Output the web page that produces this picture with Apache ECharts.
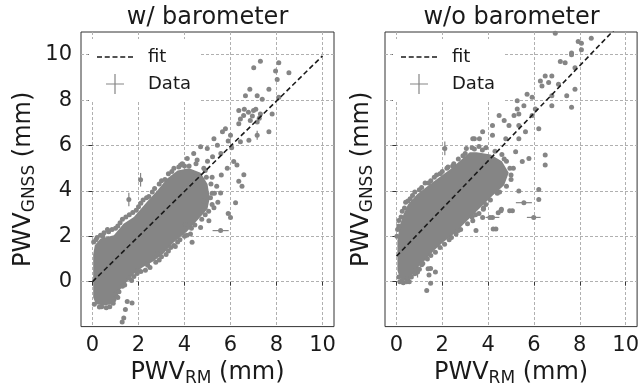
<!DOCTYPE html>
<html><head><meta charset="utf-8">
<script src="https://cdn.jsdelivr.net/npm/echarts@6/dist/echarts.min.js"></script>
<style>html,body{margin:0;padding:0;background:#fff}#c{width:642px;height:392px}</style>
</head><body><div id="c"></div>
<script>
// ---------- data ----------
const titles = ['w/ barometer', 'w/o barometer'];
const xTicks = [0, 2, 4, 6, 8, 10];
const yTicks = [0, 2, 4, 6, 8, 10];
const fitLeft = [[0, 0], [10, 9.95]];
const fitRight = [[0, 1.12], [10, 11.62]];

// dense core of the point cloud (outline, data units)
const leftCore = [[0.03,-0.7],[0.15,-1.0],[0.5,-1.05],[0.8,-1.0],[0.95,-0.75],[1.2,-0.35],[1.5,0.0],[1.8,0.35],[2.2,0.65],[2.65,0.9],[3.1,1.25],[3.5,1.7],[4.1,2.2],[4.6,2.75],[5.0,3.2],[5.1,3.7],[5.0,4.3],[4.7,4.8],[4.2,5.0],[3.7,4.9],[3.25,4.55],[2.8,4.0],[2.4,3.55],[1.8,2.85],[1.35,2.55],[0.93,2.05],[0.35,1.9],[0.1,1.6],[0.03,1.2]];
const rightCore = [[0.04,0.5],[0.15,0.15],[0.4,0.05],[0.7,0.3],[1.0,0.7],[1.3,1.0],[1.65,1.38],[2.05,1.75],[2.5,2.1],[3.05,2.65],[3.6,3.2],[4.2,3.8],[4.7,4.25],[4.9,4.8],[4.6,5.3],[4.1,5.6],[3.5,5.7],[3.2,5.7],[2.8,5.35],[2.35,4.95],[1.8,4.55],[1.35,4.2],[0.9,3.85],[0.5,3.4],[0.3,2.95],[0.15,2.5],[0.04,1.8]];

// individual points
const leftPoints = [[7.30,9.71],[8.10,9.64],[8.54,9.20],[7.96,9.28],[7.01,9.42],[8.03,8.91],[6.84,8.48],[7.67,8.48],[7.16,8.19],[6.65,8.19],[7.38,8.04],[8.10,8.12],[7.81,7.39],
[6.36,7.54],[6.57,7.32],[6.78,7.46],[7.00,7.54],[7.10,7.60],[7.30,7.39],[6.43,7.17],[6.86,7.10],[7.16,7.03],[6.36,6.96],[6.60,7.60],[6.95,7.30],[7.25,7.20],
[7.16,6.45],[7.67,6.60],[6.43,6.16],[6.80,6.23],[5.78,6.74],[5.65,6.60],[6.00,6.45],[5.28,6.30],[5.43,6.01],[4.99,5.87],[4.70,5.94],[4.40,5.65],[4.55,5.36],[4.12,5.43],[3.83,5.14],[3.54,5.00],[6.14,5.29],[6.28,5.14],[6.58,4.71],[6.36,4.42],[6.50,4.20],[5.58,5.65],[5.22,5.50],[5.86,5.00],[4.84,5.00],[6.05,5.90],[5.90,6.20],
[4.4,4.6],[4.9,4.9],[5.2,4.6],[5.4,4.2],[5.3,3.9],[4.5,5.2],[3.9,5.2],[5.6,4.7],[5.0,5.3],[4.2,5.1],[3.3,4.75],[3.0,4.45],
[1.58,3.62],[2.09,4.49],[4.26,2.10],[4.33,1.74],[4.70,2.39],[5.06,2.68],[5.57,2.25],[6.00,2.83],[6.22,3.48],[5.28,3.26],[5.57,3.91],[3.54,1.59],[4.04,2.52],[4.84,3.55],[5.13,3.70],[2.81,1.23],[2.38,0.80],[1.94,0.36],[1.80,0.23],[5.45,3.5],[5.9,3.0],
[0.93,-0.80],[1.51,-0.87],[1.72,-0.94],[1.43,-1.23],[1.36,-1.60],[1.29,-1.78],[1.05,-0.65],
[0.05,1.75],[0.2,1.95],[0.5,2.15],[0.7,2.2],[1.1,2.45],[1.6,2.95],[2.0,3.3],[2.2,3.6],[2.6,3.95],[0.35,2.05],[0.85,2.3],[1.3,2.75],[1.9,3.15],[2.45,3.75],
[1.0,-0.55],[1.3,-0.2],[1.7,0.05],[2.1,0.45],[2.5,0.62],[2.9,0.95],[3.3,1.35],[3.8,1.85],[4.3,2.35],[4.9,2.95],[0.6,-1.15],[0.3,-1.12],[0.08,-1.0],[1.15,-0.45],[2.3,0.5],[3.0,1.1],[3.6,1.55],[4.1,2.05],
[0.15,1.85],[0.45,2.0],[0.65,2.3],[1.0,2.35],[1.2,2.6],[1.45,2.85],[1.75,3.05],[2.1,3.45],[2.35,3.7],[2.7,4.1],[2.9,4.3],[3.15,4.5],[3.45,4.85],[3.75,5.05],[4.0,5.1],
[0.4,-1.1],[0.75,-1.1],[0.9,-0.95],[1.1,-0.7],[1.4,-0.15],[1.6,0.15],[1.95,0.5],[2.4,0.72],[2.75,0.85],[3.2,1.2],[3.4,1.5],[3.7,1.75],[4.0,2.0],[4.45,2.5],[4.75,2.75],[5.05,3.1],[5.2,3.4],[5.2,3.9],[5.15,4.3],[4.95,4.6]];

const rightPoints = [[6.93,10.94],[8.50,10.72],[7.93,10.58],[8.07,10.22],[7.64,10.07],[7.36,9.64],[7.15,9.70],[7.79,9.42],[6.78,9.06],[6.49,9.06],[6.28,8.84],[6.64,8.77],[6.35,8.62],[7.07,8.70],[7.79,8.48],[7.43,8.19],[6.78,8.19],[5.92,8.12],[5.70,8.26],[7.64,7.68],[6.78,7.75],[6.06,7.61],[5.56,7.75],[5.27,7.61],[5.13,7.32],[5.34,7.39],[4.48,7.32],[4.70,7.10],[4.19,6.88],[4.91,6.88],[5.34,6.88],[3.76,6.60],[4.19,6.45],[4.77,6.30],[5.34,6.30],[5.63,6.60],[3.40,6.30],[6.49,5.58],[6.49,5.14],[2.11,5.87],[3.05,5.87],[5.20,5.72],[5.49,5.29],[5.78,5.43],
[8.07,10.50],[7.64,10.00],[6.21,6.74],[5.92,7.32],[5.27,7.97],[3.62,6.30],[3.33,6.30],
[3.76,2.83],[4.19,2.83],[4.56,3.12],[5.06,3.12],[5.34,3.99],[5.56,3.48],[5.99,2.83],[6.21,3.62],[6.21,4.06],[4.34,2.32],[3.33,2.68],[3.79,3.19],[4.08,2.83],[4.44,3.04],[4.58,3.19],[4.94,3.12],[4.22,2.32],[3.47,2.25],
[1.49,0.58],[1.70,0.43],[1.42,0.29],[1.49,-0.07],[1.32,-0.39],[0.92,0.43],[0.56,0.0],[1.38,0.57],
[0.1,2.7],[0.25,3.1],[0.4,3.5],[0.7,3.8],[1.1,4.15],[1.5,4.45],[2.0,4.85],[2.5,5.2],[2.9,5.55],[0.05,2.3],[0.6,3.65],[1.25,4.35],[1.75,4.7],[2.25,5.05],
[0.3,-0.05],[0.5,0.15],[0.85,0.5],[1.15,0.8],[1.5,1.15],[1.9,1.5],[2.3,1.85],[2.8,2.3],[3.3,2.85],[3.9,3.4],[4.5,3.95],[0.15,0.0],[1.0,0.55],[2.6,2.1],[3.6,3.0],
[3.9,5.9],[4.3,5.75],[4.8,5.3],[5.0,4.7],[3.6,5.95],[4.6,5.6],[5.1,5.0],[3.3,5.9],
[0.02,2.0],[0.1,2.45],[0.2,2.85],[0.35,3.25],[0.5,3.55],[0.8,3.95],[1.0,4.05],[1.4,4.35],[1.65,4.6],[1.9,4.75],[2.2,5.0],[2.45,5.1],[2.7,5.4],[3.0,5.65],[3.4,5.85],[3.75,5.8],
[0.1,0.2],[0.25,0.05],[0.45,0.0],[0.65,0.2],[0.8,0.35],[1.1,0.75],[1.35,1.0],[1.7,1.3],[2.1,1.65],[2.4,1.95],[2.7,2.25],[3.1,2.55],[3.45,2.95],[3.8,3.25],[4.1,3.6],[4.4,3.9],[4.8,4.2],[5.0,4.5],[4.95,5.0],[4.7,5.4]];

// visible error bars: [x, y, xerr, yerr]
const leftErr = [[1.58,3.62,0,0.3],[2.09,4.49,0,0.3],[5.57,2.25,0.35,0],[7.16,6.45,0,0.2]];
const rightErr = [[2.11,5.87,0,0.3],[4.19,2.83,0.3,0],[5.56,3.48,0.35,0],[5.99,2.83,0.3,0],[0.92,0.43,0,0.25]];

// ---------- chart ----------
const FONT = 'DejaVu Sans';
const TXT = '#1a1a1a';
const GRAY = '#858585';
const grids = [{left:81, top:32, width:253, height:300}, {left:385, top:32, width:253, height:300}];
const cores = [leftCore, rightCore];
const points = [leftPoints, rightPoints];
const errs = [leftErr, rightErr];
const fits = [fitLeft, fitRight];

const rich = {
  a: {fontSize: 24, lineHeight: 29, fontFamily: FONT, color: TXT},
  b: {fontSize: 17, lineHeight: 17, verticalAlign: 'bottom', fontFamily: FONT, color: TXT}
};
const dashIcon = 'path://M0,0h0.01v0.01h-0.01z M45.99,19.99h0.01v0.01h-0.01z M0,9.3h5v1.4h-5z M7.75,9.3h5v1.4h-5z M15.5,9.3h5v1.4h-5z M23.25,9.3h5v1.4h-5z M31,9.3h5v1.4h-5z';
const plusIcon = 'path://M0,0h0.01v0.01h-0.01z M45.99,19.99h0.01v0.01h-0.01z M9,9.4h18v1.2h-18z M17.4,0h1.2v20h-1.2z';

const option = {
  animation: false,
  backgroundColor: '#fff',
  title: titles.map((t, i) => ({
    text: t, left: grids[i].left + grids[i].width / 2, top: 6, textAlign: 'center', padding: 0,
    textStyle: {fontSize: 24, fontWeight: 'normal', color: TXT, fontFamily: FONT}
  })),
  legend: grids.map((g, i) => ({
    data: [{name: 'fit', icon: dashIcon}, {name: 'Data', icon: plusIcon}],
    orient: 'vertical', left: g.left + 8, top: 39, padding: [8, 10, 8, 8],
    backgroundColor: '#fff', itemWidth: 46, itemHeight: 20, itemGap: 7, selectedMode: false,
    textStyle: {fontSize: 18, color: TXT, fontFamily: FONT}
  })),
  grid: grids.map(g => Object.assign({show: true, borderColor: '#333', borderWidth: 1, backgroundColor: 'transparent'}, g)),
  xAxis: grids.map((g, i) => ({
    gridIndex: i, type: 'value', min: -0.5, max: 10.5,
    axisLine: {show: false},
    axisTick: {show: true, inside: false, length: 4, customValues: xTicks, lineStyle: {color: '#333'}},
    axisLabel: {customValues: xTicks, fontSize: 21, color: TXT, fontFamily: FONT, margin: 8},
    splitLine: {show: true, lineStyle: {color: '#b0b0b0', width: 1, type: [3, 2]}},
    name: '{a|PWV}{b|RM}{a| (mm)}', nameLocation: 'middle', nameGap: 29,
    nameTextStyle: {rich: rich}
  })),
  yAxis: grids.map((g, i) => ({
    gridIndex: i, type: 'value', min: -1.98, max: 11,
    axisLine: {show: false},
    axisTick: {show: true, inside: false, length: 4, customValues: yTicks, lineStyle: {color: '#333'}},
    axisLabel: {show: i === 0, customValues: yTicks, fontSize: 21, color: TXT, fontFamily: FONT, margin: 9},
    splitLine: {show: true, lineStyle: {color: '#b0b0b0', width: 1, type: [3, 2]}},
    name: '{a|PWV}{b|GNSS}{a| (mm)}', nameLocation: 'middle', nameGap: i === 0 ? 43 : 9,
    nameTextStyle: {rich: rich}
  })),
  series: []
};

for (let i = 0; i < 2; i++) {
  const core = cores[i];
  option.series.push({
    type: 'custom', name: 'Data', xAxisIndex: i, yAxisIndex: i, data: [[0, 0]], silent: true, z: 2,
    itemStyle: {color: GRAY},
    renderItem: (p, api) => ({type: 'polygon', shape: {points: core.map(d => api.coord(d))}, style: {fill: GRAY}})
  });
  option.series.push({
    type: 'scatter', name: 'Data', xAxisIndex: i, yAxisIndex: i, data: points[i],
    symbolSize: 5, itemStyle: {color: GRAY, opacity: 1}, silent: true, z: 3
  });
  option.series.push({
    type: 'custom', name: 'Data', xAxisIndex: i, yAxisIndex: i, data: errs[i], encode: {x: 0, y: 1}, silent: true, z: 3,
    itemStyle: {color: GRAY},
    renderItem: (p, api) => {
      const x = api.value(0), y = api.value(1), xe = api.value(2), ye = api.value(3);
      const ch = [];
      if (xe > 0) { const a = api.coord([x - xe, y]), b = api.coord([x + xe, y]);
        ch.push({type: 'line', shape: {x1: a[0], y1: a[1], x2: b[0], y2: b[1]}, style: {stroke: GRAY, lineWidth: 1.2}}); }
      if (ye > 0) { const a = api.coord([x, y - ye]), b = api.coord([x, y + ye]);
        ch.push({type: 'line', shape: {x1: a[0], y1: a[1], x2: b[0], y2: b[1]}, style: {stroke: GRAY, lineWidth: 1.2}}); }
      return {type: 'group', children: ch};
    }
  });
  option.series.push({
    type: 'line', name: 'fit', xAxisIndex: i, yAxisIndex: i, data: fits[i], symbol: 'none', clip: true, silent: true, z: 5,
    color: TXT, itemStyle: {color: TXT}, lineStyle: {color: TXT, width: 1.6, type: [5, 3]}
  });
}

const chart = echarts.init(document.getElementById('c'), null, {renderer: 'canvas'});
chart.setOption(option);
</script>
</body></html>
